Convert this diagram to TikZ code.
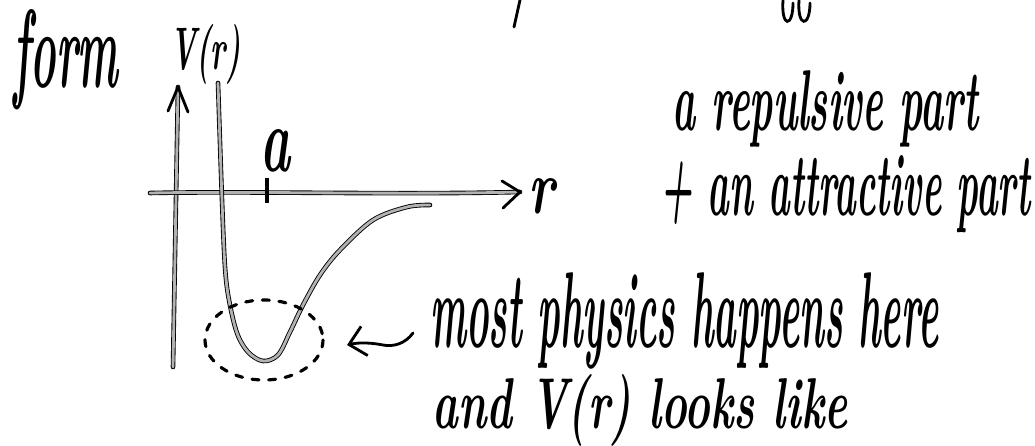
\documentclass[tikz,border=0pt]{standalone}
\usepackage{graphicx}
\usetikzlibrary{arrows.meta}
\newlength{\px}
\setlength{\px}{0.02cm}
\newcommand{\handtext}[3]{\resizebox{#1\px}{#2\px}{\bfseries\itshape #3}}
\tikzset{
  pen/.style={draw=black, line width=0.5pt, double=black!30, double distance=1.6pt, line cap=round},
  barb/.style={line width=1.6pt, line cap=round, line join=round},
  ink/.style={line width=1.6pt, line cap=round},
  dots/.style={line width=1.8pt, line cap=round, dash pattern=on 4pt off 5.5pt}
}

\begin{document}
\begin{tikzpicture}[x=0.02cm, y=-0.02cm, every node/.style={inner sep=0pt, anchor=base west}]
  \useasboundingbox (0,0) rectangle (1035,446);
  % axes
  \coordinate (ybot) at (173,367);
  \coordinate (ytop) at (178,87);
  \coordinate (xlft) at (150,193);
  \coordinate (xrgt) at (520,192);
  \draw[pen] (ybot) -- (ytop);
  \draw[barb] (168,111) -- (ytop) -- (188,112);
  \draw[pen] (xlft) .. controls (250,191) and (400,195) .. (xrgt);
  \draw[barb] (502,181) -- (xrgt) -- (503,208);
  \draw[line width=2.4pt] (267,178) -- (267,203);
  % potential
  \draw[pen] plot[smooth, tension=0.55] coordinates {(218,83) (222,200) (225,267) (229,300)
    (237,333) (248,352) (263,361) (278,355) (290,332) (303,305) (320,275) (340,250)
    (373,220) (407,207) (430,205)};
  \draw[dots] (264,340) ellipse [x radius=59, y radius=40];
  % labels
  \node (form) at (13,88)   {\handtext{105}{78}{form}};
  \node (Vr)   at (170,70)  {\handtext{70}{45}{V(r)}};
  \node (a)    at (260,172) {\handtext{30}{42}{a}};
  \node (r)    at (528,213) {\handtext{26}{35}{r}};
  \node (rep)  at (672,131) {\handtext{306}{60}{a repulsive part}};
  \node (att)  at (660,215) {\handtext{370}{60}{+ an attractive part}};
  \node (most) at (430,347) {\handtext{508}{75}{most physics happens here}};
  \node (and)  at (432,428) {\handtext{415}{54}{and V(r) looks like}};
  % pointer to the well
  \coordinate (tail) at (413,333);
  \coordinate (tip) at (347,345);
  \draw[ink, -{Straight Barb[length=9pt,width=17pt]}] (tail) .. controls (405,344) and (393,347) .. (383,345)
    .. controls (373,343) and (360,342) .. (tip);
  % cut-off strokes at the top edge
  \draw[ink] (520,0) -- (514,27);
  \draw[ink] (783,0) .. controls (781,28) and (793,28) .. (793,3);
  \draw[ink] (799,0) .. controls (797,28) and (810,28) .. (810,3);
\end{tikzpicture}
\end{document}
